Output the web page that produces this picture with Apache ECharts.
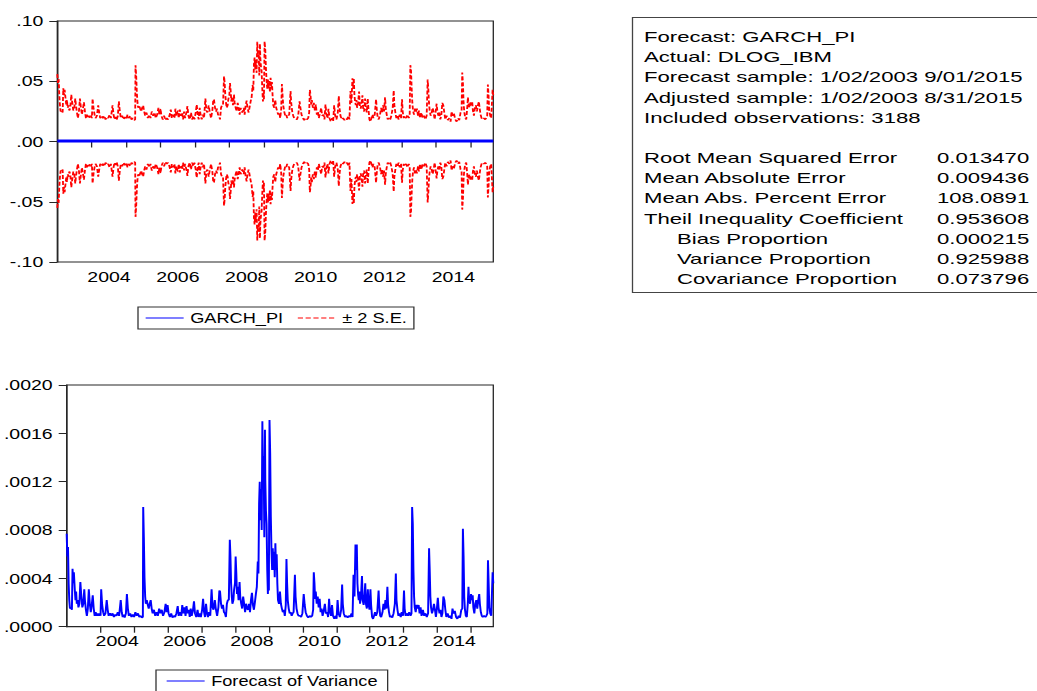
<!DOCTYPE html>
<html>
<head>
<meta charset="utf-8">
<title>GARCH_PI forecast</title>
<script src="https://cdn.jsdelivr.net/npm/echarts@6/dist/echarts.min.js"></script>
<style>
  html, body { margin: 0; padding: 0; background: #fff; overflow: hidden; }
  #wrap { width: 1037px; height: 691px; overflow: hidden; position: relative; }
  /* the graph is laid out narrow and stretched sideways, as the exported graph is */
  #chart { width: 798px; height: 691px; transform: scaleX(1.2995); transform-origin: 0 0; }
</style>
</head>
<body>
<div id="wrap"><div id="chart"></div></div>
<script>
// horizontal stretch applied to the chart div (page px / layout px)
const SX = 1037 / 798;
const px = v => v / SX;   // page x-distance -> layout x-distance

// ---------- data ----------
// first and last observation, as decimal years (1/02/2003 .. 8/31/2015)
const X_MIN = 2003.0;
const X_MAX = 2015.66;

// tick marks at each year start, labels centred in every second year
const TICK_YEARS = [2004, 2005, 2006, 2007, 2008, 2009, 2010, 2011, 2012, 2013, 2014, 2015];
const YEAR_LABELS = ['2004', '2006', '2008', '2010', '2012', '2014'];

// y ticks
const TOP_Y = { min: -0.10, max: 0.10, step: 0.05 };
const BOT_Y = { min: 0, max: 0.0020, step: 0.0004 };

// GARCH_PI: the (constant) mean forecast
const GARCH_PI = 0.0004;

// forecast of variance: [decimal year, variance x 1e-4]
const VARIANCE_READINGS = [
  // 2003
  [2003.000,7.7],[2003.019,5.8],[2003.039,6.6],[2003.058,3.6],[2003.077,2.2],[2003.097,1.5],[2003.126,1.6],[2003.155,1.4],[2003.174,4.8],[2003.193,3.6],[2003.213,4.5],[2003.242,3.0],[2003.261,2.2],[2003.280,2.9],[2003.300,1.9],[2003.329,2.2],[2003.348,1.6],[2003.377,1.9],[2003.406,3.7],[2003.435,2.5],[2003.464,1.6],[2003.493,1.9],[2003.522,3.1],[2003.541,2.2],[2003.570,1.4],[2003.599,0.9],[2003.628,1.5],[2003.657,3.1],[2003.686,1.9],[2003.715,1.2],[2003.744,1.8],[2003.773,2.6],[2003.802,1.5],[2003.831,0.9],[2003.860,1.2],[2003.889,0.9],[2003.918,1.1],[2003.947,0.9],[2003.976,1.1],
  // 2004
  [2004.005,0.9],[2004.024,3.1],[2004.053,1.8],[2004.082,1.2],[2004.111,0.9],[2004.150,1.1],[2004.188,2.2],[2004.217,1.4],[2004.246,0.9],[2004.285,1.1],[2004.324,0.9],[2004.362,1.1],[2004.401,0.8],[2004.440,1.0],[2004.478,0.9],[2004.517,1.2],[2004.556,0.9],[2004.604,2.2],[2004.633,1.2],[2004.662,0.8],[2004.691,1.0],[2004.720,0.75],[2004.758,1.1],[2004.787,2.7],[2004.816,1.5],[2004.845,0.9],[2004.884,1.1],[2004.923,0.8],[2004.961,1.0],
  // 2005
  [2005.000,0.8],[2005.039,1.2],[2005.077,0.9],[2005.116,1.1],[2005.155,0.8],[2005.193,0.9],[2005.232,0.75],[2005.261,0.8],[2005.271,9.9],[2005.290,7.4],[2005.309,4.1],[2005.329,2.5],[2005.348,1.9],[2005.377,2.2],[2005.406,1.8],[2005.435,1.5],[2005.464,1.9],[2005.493,2.2],[2005.522,1.5],[2005.551,1.1],[2005.589,1.4],[2005.628,0.9],[2005.667,1.2],[2005.705,0.9],[2005.744,1.5],[2005.783,1.1],[2005.821,1.4],[2005.860,0.9],[2005.899,1.2],[2005.937,1.9],[2005.966,1.2],[2005.995,1.8],
  // 2006
  [2006.024,1.1],[2006.063,0.8],[2006.101,1.1],[2006.140,0.75],[2006.179,0.9],[2006.217,0.8],[2006.256,1.1],[2006.295,1.7],[2006.324,0.9],[2006.362,1.2],[2006.401,0.9],[2006.430,1.8],[2006.459,1.1],[2006.498,1.6],[2006.527,0.9],[2006.556,1.7],[2006.585,1.1],[2006.623,1.4],[2006.652,0.8],[2006.681,1.5],[2006.710,0.9],[2006.749,1.4],[2006.778,2.1],[2006.807,1.1],[2006.845,0.8],[2006.884,1.4],[2006.913,0.8],[2006.952,1.1],[2006.981,0.8],
  // 2007
  [2007.019,1.4],[2007.048,2.3],[2007.077,1.2],[2007.106,0.8],[2007.135,1.9],[2007.164,1.1],[2007.193,0.8],[2007.222,1.2],[2007.261,0.9],[2007.300,3.1],[2007.329,1.6],[2007.357,1.4],[2007.396,2.2],[2007.425,1.5],[2007.464,0.9],[2007.502,1.6],[2007.531,3.0],[2007.551,2.9],[2007.580,1.9],[2007.609,1.5],[2007.638,1.8],[2007.667,1.2],[2007.696,1.1],[2007.725,0.8],[2007.754,1.9],[2007.783,2.2],[2007.812,2.2],[2007.841,7.2],[2007.860,5.8],[2007.879,3.6],[2007.899,2.5],[2007.918,1.9],[2007.947,2.2],[2007.966,3.0],[2007.995,3.6],
  // 2008
  [2008.014,5.8],[2008.034,4.4],[2008.053,2.7],[2008.072,3.3],[2008.101,2.2],[2008.130,3.7],[2008.150,2.5],[2008.179,1.9],[2008.208,1.5],[2008.237,2.5],[2008.266,1.9],[2008.295,1.2],[2008.324,1.9],[2008.353,1.5],[2008.382,1.4],[2008.411,1.9],[2008.440,1.2],[2008.469,2.2],[2008.498,2.8],[2008.527,1.8],[2008.556,1.4],[2008.585,2.0],[2008.614,2.7],[2008.643,3.3],[2008.671,5.4],[2008.691,4.4],[2008.710,10.2],[2008.729,12.0],[2008.749,8.8],[2008.768,11.4],[2008.787,8.0],[2008.807,17.0],[2008.826,12.1],[2008.845,14.1],[2008.865,7.4],[2008.884,16.3],[2008.894,12.1],[2008.913,9.6],[2008.932,8.5],[2008.952,4.7],[2008.971,2.7],[2008.981,4.1],
  // 2009
  [2009.000,3.0],[2009.019,17.1],[2009.039,14.3],[2009.058,9.1],[2009.077,6.3],[2009.097,4.7],[2009.116,6.5],[2009.135,4.7],[2009.155,6.2],[2009.174,4.1],[2009.193,6.9],[2009.213,4.7],[2009.232,6.0],[2009.251,3.6],[2009.271,2.2],[2009.300,1.9],[2009.329,2.9],[2009.357,1.9],[2009.386,1.5],[2009.415,1.2],[2009.444,1.4],[2009.473,0.9],[2009.502,1.8],[2009.522,5.6],[2009.541,3.6],[2009.560,2.2],[2009.589,1.5],[2009.618,1.1],[2009.647,1.2],[2009.676,0.9],[2009.705,1.1],[2009.734,1.2],[2009.773,4.3],[2009.792,2.5],[2009.821,1.5],[2009.850,1.1],[2009.879,0.9],[2009.918,0.9],[2009.957,0.8],[2009.995,1.1],
  // 2010
  [2010.034,2.7],[2010.063,1.8],[2010.092,1.2],[2010.130,0.9],[2010.169,0.75],[2010.208,0.9],[2010.246,0.8],[2010.285,0.9],[2010.314,1.4],[2010.333,4.5],[2010.353,3.6],[2010.372,2.3],[2010.391,2.9],[2010.420,1.9],[2010.449,2.5],[2010.478,1.6],[2010.507,2.3],[2010.536,1.2],[2010.565,1.5],[2010.594,0.9],[2010.633,1.4],[2010.662,1.9],[2010.691,1.1],[2010.729,1.2],[2010.758,0.8],[2010.787,2.3],[2010.816,1.2],[2010.845,0.9],[2010.874,1.8],[2010.903,0.9],[2010.942,0.65],[2010.981,0.9],
  // 2011
  [2011.010,0.65],[2011.039,2.2],[2011.068,1.1],[2011.106,0.8],[2011.145,1.4],[2011.174,3.5],[2011.193,1.9],[2011.222,1.1],[2011.261,0.8],[2011.300,0.9],[2011.338,0.75],[2011.377,0.9],[2011.415,0.8],[2011.454,1.1],[2011.483,0.8],[2011.512,4.3],[2011.541,2.5],[2011.570,6.8],[2011.589,4.7],[2011.609,6.8],[2011.628,3.6],[2011.647,2.7],[2011.667,2.2],[2011.686,2.9],[2011.705,1.9],[2011.734,2.5],[2011.763,4.2],[2011.783,2.2],[2011.812,1.8],[2011.841,2.7],[2011.860,3.6],[2011.879,1.9],[2011.908,1.5],[2011.937,3.1],[2011.957,1.9],[2011.986,1.4],
  // 2012
  [2012.014,3.1],[2012.034,1.8],[2012.063,0.8],[2012.092,0.65],[2012.121,0.9],[2012.150,1.2],[2012.179,0.9],[2012.217,1.2],[2012.256,3.0],[2012.275,1.8],[2012.304,0.9],[2012.333,0.8],[2012.372,1.2],[2012.401,1.9],[2012.430,1.4],[2012.459,2.2],[2012.488,1.5],[2012.517,3.3],[2012.536,1.9],[2012.565,1.2],[2012.594,0.8],[2012.623,0.9],[2012.662,0.75],[2012.700,1.1],[2012.739,1.9],[2012.768,4.4],[2012.787,2.2],[2012.816,1.4],[2012.845,0.9],[2012.874,1.1],[2012.913,0.8],[2012.942,1.2],[2012.981,0.9],
  // 2013
  [2013.010,3.0],[2013.029,1.5],[2013.058,0.9],[2013.087,1.1],[2013.126,0.9],[2013.164,1.2],[2013.203,0.9],[2013.232,1.1],[2013.251,9.9],[2013.271,8.5],[2013.290,4.7],[2013.309,2.5],[2013.329,1.6],[2013.357,1.2],[2013.386,1.8],[2013.415,1.5],[2013.444,1.8],[2013.473,1.1],[2013.502,1.6],[2013.531,0.9],[2013.570,1.4],[2013.609,0.9],[2013.647,1.1],[2013.686,0.8],[2013.725,1.1],[2013.754,6.5],[2013.773,4.7],[2013.792,2.5],[2013.812,1.6],[2013.841,1.1],[2013.870,1.4],[2013.899,1.9],[2013.928,1.4],[2013.957,0.8],[2013.986,1.5],
  // 2014
  [2014.014,2.4],[2014.034,1.6],[2014.063,1.1],[2014.092,1.4],[2014.121,0.8],[2014.150,1.1],[2014.179,2.5],[2014.208,2.2],[2014.237,1.4],[2014.266,0.8],[2014.304,1.1],[2014.343,0.75],[2014.382,0.9],[2014.420,0.65],[2014.449,1.5],[2014.478,1.1],[2014.517,1.3],[2014.556,0.8],[2014.594,0.65],[2014.633,0.9],[2014.671,0.75],[2014.710,1.4],[2014.739,1.5],[2014.758,8.1],[2014.778,5.8],[2014.797,2.5],[2014.816,1.5],[2014.845,0.9],[2014.874,0.8],[2014.903,1.9],[2014.923,3.3],[2014.942,2.2],[2014.971,1.9],
  // 2015
  [2015.000,2.7],[2015.019,2.2],[2015.048,2.6],[2015.068,1.6],[2015.097,1.1],[2015.126,1.9],[2015.155,2.2],[2015.184,1.5],[2015.213,2.2],[2015.242,2.7],[2015.261,1.9],[2015.290,1.2],[2015.319,0.9],[2015.348,0.8],[2015.386,0.9],[2015.425,0.8],[2015.454,0.9],[2015.483,1.1],[2015.502,5.5],[2015.522,3.6],[2015.541,1.6],[2015.570,1.1],[2015.599,0.9],[2015.640,4.5],[2015.660,3.6]
];

// forecast evaluation table
const HEADER_LINES = [
  'Forecast: GARCH_PI',
  'Actual: DLOG_IBM',
  'Forecast sample: 1/02/2003 9/01/2015',
  'Adjusted sample: 1/02/2003 8/31/2015',
  'Included observations: 3188'
];
const STAT_NAMES = [
  'Root Mean Squared Error',
  'Mean Absolute Error',
  'Mean Abs. Percent Error',
  'Theil Inequality Coefficient',
  'Bias Proportion',
  'Variance Proportion',
  'Covariance Proportion'
];
const STAT_INDENTED = [false, false, false, false, true, true, true];
const STAT_VALUES = ['0.013470', '0.009436', '108.0891', '0.953608', '0.000215', '0.925988', '0.073796'];

// ---------- derived series ----------
const variance = VARIANCE_READINGS.map(([t, v]) => [t, v * 1e-4]);
// +/- 2 standard errors around the mean forecast (S.E. = sqrt of the variance forecast)
const bandUpper = variance.map(([t, v]) => [t, GARCH_PI + 2 * Math.sqrt(v)]);
const bandLower = variance.map(([t, v]) => [t, GARCH_PI - 2 * Math.sqrt(v)]);
const piLine = [[X_MIN, GARCH_PI], [X_MAX, GARCH_PI]];

// ---------- styling ----------
const FONT = 'Liberation Sans, Arial, Helvetica, sans-serif';
const INK = '#000';
const FRAME = '#262626';
const BLUE = '#0000ff';
const RED = '#ff0000';

const topFmt = v => {
  const r = Math.round(v * 100);
  if (r === 0) return '.00';
  const s = (Math.abs(r) / 100).toFixed(2).replace(/^0/, '');
  return (r < 0 ? '-' : '') + s;
};
const botFmt = v => (Math.round(v * 1e4) / 1e4).toFixed(4).replace(/^0/, '');

function xAxis(gridIndex) {
  return {
    type: 'value', gridIndex, min: X_MIN, max: X_MAX,
    axisLine: { show: true, lineStyle: { color: FRAME, width: 1 } },
    axisTick: {
      show: true, inside: false, length: 6,
      customValues: TICK_YEARS,
      lineStyle: { color: FRAME, width: 1 }
    },
    axisLabel: {
      customValues: YEAR_LABELS.map(y => Number(y) + 0.5),
      formatter: v => String(Math.floor(v)),
      margin: 7, color: INK, fontSize: 15, fontFamily: FONT
    },
    splitLine: { show: false }
  };
}

function yAxis(gridIndex, cfg, fmt) {
  return {
    type: 'value', gridIndex, min: cfg.min, max: cfg.max, interval: cfg.step,
    axisLine: { show: true, lineStyle: { color: FRAME, width: 1 } },
    axisTick: { show: true, length: px(8), lineStyle: { color: FRAME, width: 1 } },
    axisLabel: { formatter: fmt, margin: px(14), color: INK, fontSize: 15, fontFamily: FONT },
    splitLine: { show: false }
  };
}

// evaluation table, drawn as text
const TABLE_SCALE = 1.58 / SX;
const tableEls = [{
  type: 'rect',
  shape: { x: px(632.5), y: 17.5, width: px(430), height: 275 },
  style: { fill: 'none', stroke: '#444', lineWidth: 1 },
  silent: true
}];
function tableText(text, xPage, y) {
  return {
    type: 'text', x: px(xPage), y, scaleX: TABLE_SCALE, scaleY: 1, silent: true,
    style: {
      text, fill: INK, font: '14px ' + FONT,
      textAlign: 'left', textVerticalAlign: 'middle', verticalAlign: 'middle'
    }
  };
}
HEADER_LINES.forEach((t, i) => tableEls.push(tableText(t, 644, 37 + i * 20.2)));
STAT_NAMES.forEach((t, i) => {
  const y = 158.3 + i * 20.1;
  tableEls.push(tableText(t, STAT_INDENTED[i] ? 677 : 644, y));
  tableEls.push(tableText(STAT_VALUES[i], 937, y));
});

// legend keys show the line only, no point marker
const legendBase = {
  orient: 'horizontal',
  itemWidth: px(38), itemHeight: 14,
  borderColor: '#333', borderWidth: 1, borderRadius: 0,
  backgroundColor: '#fff',
  selectedMode: false,
  textStyle: { color: INK, fontSize: 14, fontFamily: FONT },
  itemStyle: { opacity: 0, borderWidth: 0 },
  lineStyle: { width: 1 }
};

const chart = echarts.init(document.getElementById('chart'), null, { renderer: 'svg' });
chart.setOption({
  animation: false,
  backgroundColor: '#fff',
  grid: [
    { left: px(57.3), top: 21, width: px(436), height: 241, show: true, borderColor: FRAME, borderWidth: 1, backgroundColor: 'transparent' },
    { left: px(57.3), top: 385, width: px(436), height: 241.7, show: true, borderColor: FRAME, borderWidth: 1, backgroundColor: 'transparent' }
  ],
  xAxis: [xAxis(0), xAxis(1)],
  yAxis: [yAxis(0, TOP_Y, topFmt), yAxis(1, BOT_Y, botFmt)],
  legend: [
    Object.assign({}, legendBase, {
      data: ['GARCH_PI', '± 2 S.E.'],
      left: px(138), top: 307,
      itemGap: px(14),
      padding: [4, px(7), 4, px(7)]
    }),
    Object.assign({}, legendBase, {
      data: ['Forecast of Variance'],
      left: px(156), top: 670,
      padding: [4, px(10), 10, px(10)]
    })
  ],
  graphic: { elements: tableEls },
  series: [
    {
      name: '± 2 S.E.', type: 'line', xAxisIndex: 0, yAxisIndex: 0,
      data: bandUpper, symbol: 'none', silent: true,
      lineStyle: { color: RED, width: 1.4, type: [4, 2] }, itemStyle: { color: RED }
    },
    {
      name: '± 2 S.E.', type: 'line', xAxisIndex: 0, yAxisIndex: 0,
      data: bandLower, symbol: 'none', silent: true,
      lineStyle: { color: RED, width: 1.4, type: [4, 2] }, itemStyle: { color: RED }
    },
    {
      name: 'GARCH_PI', type: 'line', xAxisIndex: 0, yAxisIndex: 0,
      data: piLine, symbol: 'none', silent: true, z: 3,
      lineStyle: { color: BLUE, width: 3 }, itemStyle: { color: BLUE }
    },
    {
      name: 'Forecast of Variance', type: 'line', xAxisIndex: 1, yAxisIndex: 1,
      data: variance, symbol: 'none', silent: true,
      lineStyle: { color: BLUE, width: 1.5 }, itemStyle: { color: BLUE }
    }
  ]
});
</script>
</body>
</html>
